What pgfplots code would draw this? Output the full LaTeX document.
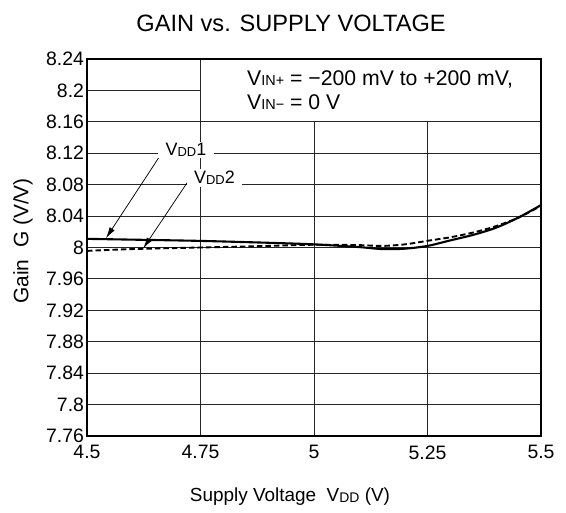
\documentclass[border=0pt]{standalone}
\usepackage{fontspec}
\setmainfont{Liberation Sans}
\usepackage{pgfplots}
\pgfplotsset{compat=1.18}
\usetikzlibrary{arrows.meta}
\newcommand{\sub}[2][13]{\raisebox{-0.6bp}{\fontsize{#1}{#1}\selectfont #2}}
\begin{document}
\begin{tikzpicture}
\begin{axis}[
  at={(0bp,0bp)}, anchor=south west,
  scale only axis, width=454bp, height=377bp,
  xmin=4.5, xmax=5.5, ymin=7.76, ymax=8.24,
  xtick={4.5,4.75,5,5.25,5.5},
  xticklabels={4.5,4.75,5,5.25,5.5},
  ytick={7.76,7.8,7.84,7.88,7.92,7.96,8,8.04,8.08,8.12,8.16,8.2,8.24},
  yticklabels={7.76,7.8,7.84,7.88,7.92,7.96,8,8.04,8.08,8.12,8.16,8.2,8.24},
  grid=major, major grid style={black!85, line width=0.9bp},
  axis line style={line width=1.6bp},
  major tick length=0pt,
  tick label style={font=\fontsize{19.5}{21}\selectfont},
  xticklabel style={yshift=-6bp},
  yticklabel style={xshift=0.5bp},
]
\fill[white] ([xshift=0.7bp,yshift=0.7bp]axis cs:4.75,8.16) rectangle ([xshift=-1bp,yshift=-1bp]axis cs:5.5,8.24);
\addplot[black, line width=2.1bp, smooth] coordinates {
(4.5,8.011) (4.6,8.010) (4.75,8.0084) (4.9,8.006) (5.0,8.004) (5.1,8.0005) (5.15,7.998) (5.2,7.9985) (5.25,8.002) (5.3,8.009) (5.35,8.016) (5.4,8.025) (5.45,8.038) (5.5,8.054)};
\addplot[black, line width=1.9bp, dash pattern=on 5.5bp off 3bp, smooth] coordinates {
(4.5,7.9957) (4.6,7.998) (4.75,8.000) (4.9,8.002) (5.0,8.0035) (5.1,8.003) (5.15,8.002) (5.2,8.004) (5.25,8.0085) (5.3,8.013) (5.35,8.019) (5.4,8.027) (5.45,8.038) (5.5,8.053)};
\draw[-{Latex[length=11bp,width=6bp]}, line width=0.75bp] (axis cs:4.6645,8.12) -- (axis cs:4.542,8.012);
\draw[-{Latex[length=11bp,width=6bp]}, line width=0.75bp] (axis cs:4.727,8.088) -- (axis cs:4.624,7.999);
\end{axis}
\node[fill=white, inner xsep=8bp, inner ysep=2bp] at (99bp,286bp) {\fontsize{18}{20}\selectfont V\sub{DD}1};
\node[fill=white, inner xsep=7bp, inner ysep=2bp] at (127.5bp,258bp) {\fontsize{18}{20}\selectfont V\sub{DD}2};
\node[anchor=west, inner sep=0pt] at (160bp,357bp) {\fontsize{21.3}{23}\selectfont V\sub[14.5]{IN+} = −200 mV to +200 mV,};
\node[anchor=west, inner sep=0pt] at (160bp,334bp) {\fontsize{21.3}{23}\selectfont V\sub[14.5]{IN−} = 0 V};
\node at (204bp,413bp) {\fontsize{23.7}{25}\selectfont GAIN vs. SUPPLY VOLTAGE};
\node at (203bp,-61bp) {\fontsize{19}{21}\selectfont Supply Voltage\ \ V\sub[14]{DD} (V)};
\node[rotate=90] at (-64bp,195bp) {\fontsize{21}{23}\selectfont Gain\ \ G (V/V)};
\pgfresetboundingbox
\path[use as bounding box] (-87bp,-77bp) rectangle (479bp,436bp);
\end{tikzpicture}
\end{document}
